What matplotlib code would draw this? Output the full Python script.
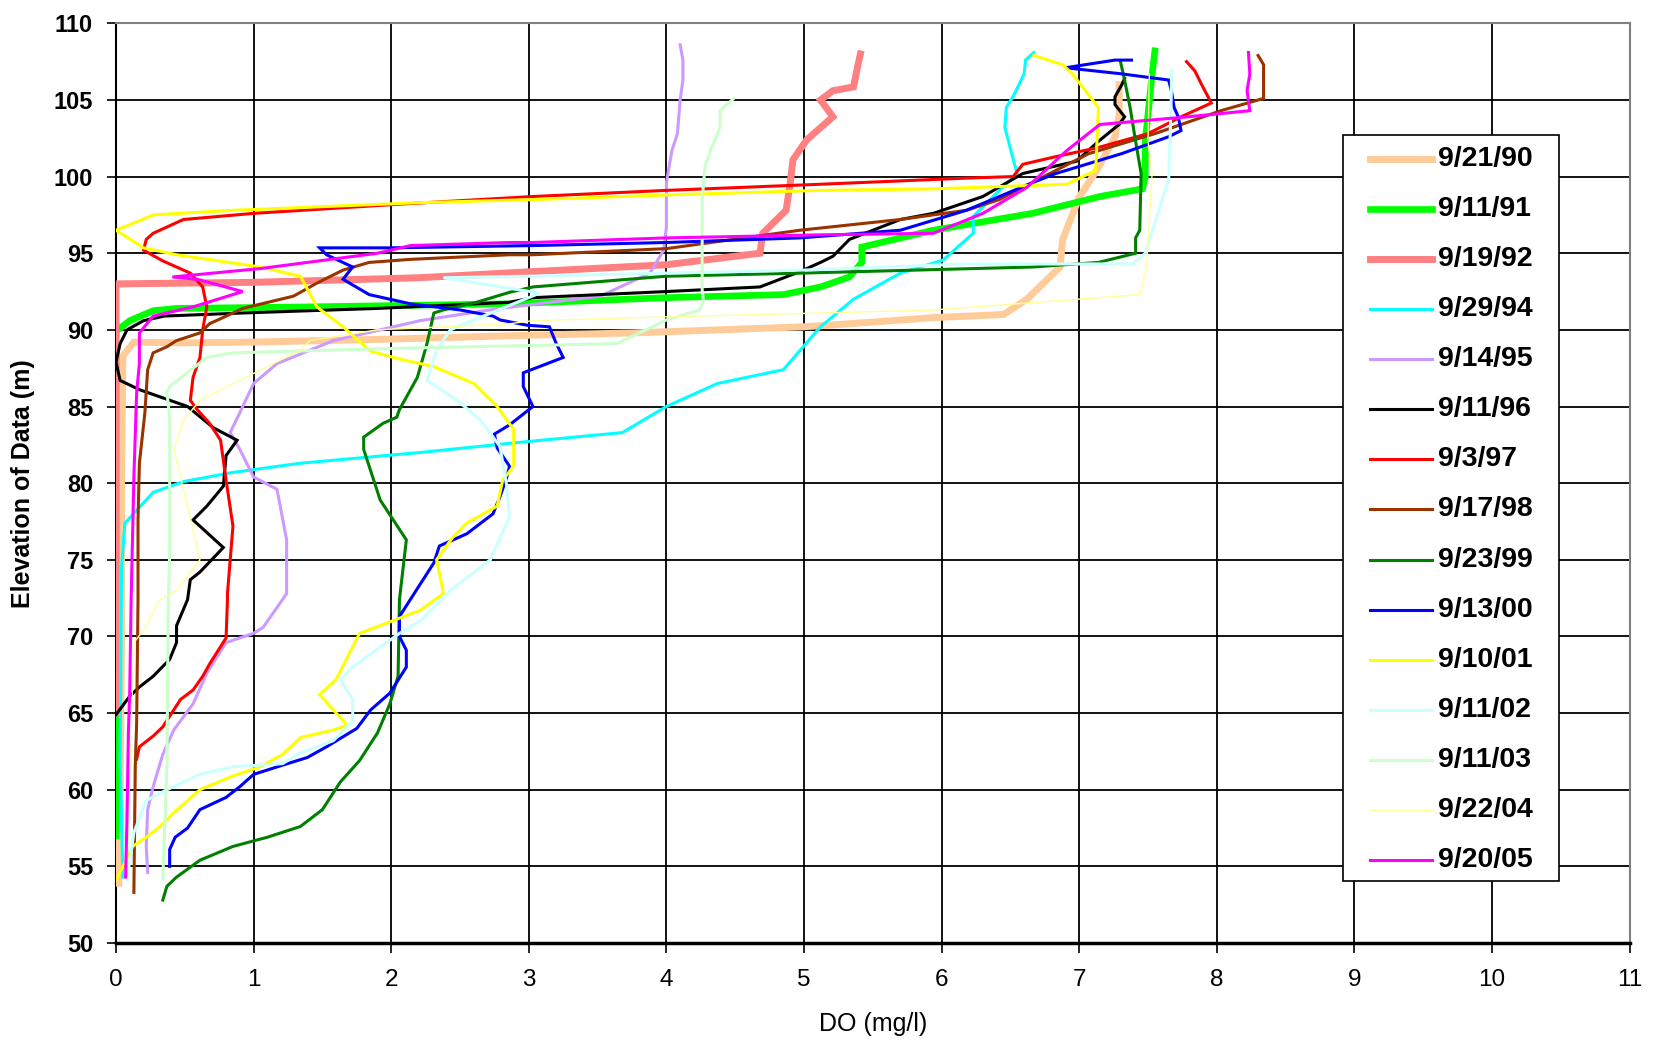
import matplotlib
matplotlib.use("Agg")
import matplotlib.pyplot as plt
from matplotlib.patches import Rectangle
from matplotlib.lines import Line2D
import logging
logging.getLogger("matplotlib.font_manager").setLevel(logging.ERROR)

# ---------------- data (DO mg/l vs elevation m) ----------------
labels = ["9/21/90", "9/11/91", "9/19/92", "9/29/94", "9/14/95", "9/11/96", "9/3/97",
          "9/17/98", "9/23/99", "9/13/00", "9/10/01", "9/11/02", "9/11/03", "9/22/04", "9/20/05"]

do_90 = [0.02, 0.03, 0.04, 0.04, 0.05, 0.13, 0.5, 1.0, 2.0, 3.0, 3.76, 5.0, 5.43, 5.94, 6.45, 6.62,
         6.86, 6.88, 7.0, 7.14, 7.26, 7.29, 7.29]
el_90 = [53.9, 60, 70, 80, 88.3, 89.2, 89.15, 89.2, 89.4, 89.65, 89.8, 90.2, 90.46, 90.8, 91.0, 92.0,
         94.1, 95.9, 98.65, 100.6, 102.6, 104.0, 106.0]

do_91 = [0.0, 0.0, 0.1, 0.27, 0.44, 1.41, 2.86, 4.0, 4.85, 5.12, 5.33, 5.42, 5.42, 5.94, 6.66, 7.15,
         7.46, 7.48, 7.48, 7.53, 7.55]
el_91 = [57.0, 89.9, 90.6, 91.25, 91.4, 91.5, 91.7, 92.1, 92.3, 92.8, 93.45, 94.4, 95.4, 96.5, 97.6, 98.7,
         99.2, 100.0, 102.3, 106.7, 108.2]

do_92 = [0.0, 0.0, 0.5, 1.0, 2.2, 3.03, 4.0, 4.68, 4.70, 4.87, 4.90, 4.92, 5.02, 5.21, 5.12, 5.21,
         5.36, 5.39, 5.41]
el_92 = [65.0, 93.0, 93.05, 93.1, 93.4, 93.8, 94.25, 95.0, 96.3, 97.8, 99.6, 101.1, 102.4, 103.9, 105.0, 105.6,
         105.85, 107.2, 108.0]

do_94 = [0.05, 0.03, 0.04, 0.065, 0.27, 0.49, 0.85, 1.34, 2.21, 2.86, 3.68, 4.0, 4.37, 4.85, 5.12, 5.36,
         5.70, 6.01, 6.23, 6.23, 6.42, 6.55, 6.53, 6.46, 6.47, 6.53, 6.60, 6.61, 6.67]
el_94 = [54.3, 62, 74.5, 77.4, 79.4, 80.1, 80.7, 81.3, 82.0, 82.6, 83.3, 85.0, 86.5, 87.4, 90.2, 92.0,
         93.7, 94.55, 96.3, 97.4, 99.1, 100.2, 100.8, 103.2, 104.5, 105.4, 106.7, 107.6, 108.1]

do_95 = [0.23, 0.22, 0.23, 0.27, 0.34, 0.42, 0.56, 0.66, 0.80, 1.0, 1.07, 1.21, 1.24, 1.24, 1.17, 1.0,
         0.9, 0.83, 0.9, 1.0, 1.17, 1.58, 2.21, 2.79, 3.52, 3.88, 3.98, 4.0, 4.0, 4.04, 4.08, 4.10,
         4.12, 4.12, 4.10]
el_95 = [54.6, 56.3, 58.7, 60.2, 62.3, 63.9, 65.6, 67.6, 69.6, 70.2, 70.6, 72.4, 72.8, 76.3, 79.6, 80.4,
         82.2, 83.3, 84.6, 86.5, 87.8, 89.3, 90.6, 91.4, 92.2, 93.7, 95.2, 96.7, 99.6, 101.7, 102.8, 105.0,
         106.3, 107.6, 108.6]

do_96 = [0.0, 0.1, 0.17, 0.27, 0.39, 0.44, 0.44, 0.52, 0.54, 0.61, 0.78, 0.56, 0.66, 0.78, 0.80, 0.88,
         0.71, 0.52, 0.17, 0.03, 0.0, 0.03, 0.08, 0.2, 0.35, 0.92, 1.9, 2.86, 3.03, 4.0, 4.68, 4.97,
         5.12, 5.21, 5.33, 5.70, 5.94, 6.30, 6.59, 6.98, 7.14, 7.29, 7.33, 7.26, 7.26, 7.31, 7.33]
el_96 = [64.9, 66.1, 66.7, 67.4, 68.5, 69.6, 70.7, 72.4, 73.7, 74.2, 75.8, 77.6, 78.5, 79.8, 81.8, 82.8,
         83.6, 85.0, 86.1, 86.7, 87.9, 89.1, 90.0, 90.6, 90.9, 91.1, 91.4, 91.8, 92.1, 92.5, 92.8, 93.8,
         94.4, 94.8, 95.9, 97.2, 97.6, 98.7, 100.2, 101.0, 102.3, 103.4, 103.9, 104.7, 105.2, 106.0, 106.4]

do_97 = [0.15, 0.17, 0.27, 0.34, 0.39, 0.47, 0.56, 0.63, 0.68, 0.80, 0.81, 0.81, 0.85, 0.80, 0.76, 0.68,
         0.59, 0.54, 0.56, 0.61, 0.63, 0.66, 0.63, 0.54, 0.34, 0.2, 0.22, 0.27, 0.49, 1.0, 2.06, 3.03,
         4.0, 5.12, 6.18, 6.52, 6.59, 6.83, 7.14, 7.5, 7.74, 7.96, 7.89, 7.84, 7.78]
el_97 = [62.0, 62.8, 63.5, 64.1, 64.8, 65.9, 66.5, 67.4, 68.2, 69.9, 72.4, 72.8, 77.2, 80.2, 82.8, 83.9,
         84.8, 85.4, 86.9, 88.2, 90.0, 91.5, 92.8, 93.7, 94.5, 95.2, 95.9, 96.3, 97.2, 97.6, 98.2, 98.7,
         99.1, 99.5, 99.9, 100.0, 100.8, 101.3, 101.9, 102.8, 103.9, 104.8, 106.0, 106.9, 107.5]

do_98 = [0.13, 0.14, 0.15, 0.16, 0.16, 0.17, 0.21, 0.23, 0.27, 0.37, 0.44, 0.61, 0.68, 0.85, 0.92, 1.29,
         1.46, 1.65, 1.84, 2.14, 2.86, 3.03, 4.0, 4.97, 5.70, 6.18, 6.42, 6.59, 7.07, 7.55, 8.03, 8.34,
         8.34, 8.30]
el_98 = [53.3, 61.5, 64.3, 72.4, 77.6, 81.3, 84.6, 87.4, 88.5, 88.9, 89.3, 89.8, 90.4, 91.1, 91.4, 92.2,
         93.05, 93.9, 94.4, 94.6, 94.9, 94.9, 95.3, 96.5, 97.2, 97.8, 98.5, 99.3, 101.5, 102.8, 104.3, 105.1,
         107.3, 107.9]

do_99 = [0.34, 0.37, 0.44, 0.61, 0.85, 1.10, 1.34, 1.50, 1.63, 1.77, 1.90, 1.99, 2.05, 2.06, 2.11, 1.92,
         1.80, 1.80, 1.94, 2.04, 2.06, 2.19, 2.26, 2.31, 2.38, 2.62, 2.86, 3.03, 4.0, 4.97, 6.66, 7.14,
         7.41, 7.41, 7.44, 7.45, 7.41, 7.37, 7.33, 7.30]
el_99 = [52.8, 53.7, 54.3, 55.4, 56.3, 56.9, 57.6, 58.7, 60.5, 61.9, 63.7, 65.6, 67.4, 72.4, 76.3, 78.9,
         82.2, 83.0, 83.9, 84.3, 84.8, 86.9, 89.1, 91.1, 91.3, 91.8, 92.45, 92.8, 93.5, 93.7, 94.1, 94.4,
         95.0, 96.0, 96.5, 100.2, 102.3, 104.5, 106.3, 107.5]

do_00 = [0.39, 0.39, 0.43, 0.52, 0.61, 0.80, 0.90, 1.0, 1.21, 1.39, 1.53, 1.75, 1.85, 1.99, 2.11, 2.11,
         2.06, 2.06, 2.31, 2.35, 2.55, 2.74, 2.79, 2.84, 2.86, 2.77, 2.75, 2.86, 3.03, 2.96, 2.96, 3.25,
         3.20, 3.15, 2.99, 2.79, 2.74, 2.50, 2.14, 1.84, 1.65, 1.72, 1.53, 1.48, 1.99, 3.03, 4.0, 4.97,
         5.70, 6.18, 6.66, 6.83, 7.31, 7.65, 7.74, 7.72, 7.69, 7.67, 7.65, 7.31, 6.90, 7.26, 7.38]
el_00 = [55.0, 56.1, 56.9, 57.5, 58.7, 59.5, 60.2, 61.0, 61.6, 62.1, 62.8, 64.0, 65.2, 66.3, 68.0, 69.1,
         70.0, 71.3, 74.8, 75.9, 76.7, 78.0, 79.1, 80.4, 81.1, 82.3, 83.2, 83.8, 85.0, 86.3, 87.2, 88.2,
         89.1, 90.2, 90.3, 90.65, 90.9, 91.3, 91.7, 92.3, 93.3, 94.1, 94.9, 95.35, 95.35, 95.5, 95.7, 96.0,
         96.5, 97.8, 99.6, 100.2, 101.5, 102.6, 103.0, 103.9, 104.5, 105.6, 106.3, 106.7, 107.1, 107.6, 107.6]

do_01 = [0.0, 0.05, 0.12, 0.22, 0.32, 0.42, 0.61, 0.85, 1.05, 1.21, 1.34, 1.58, 1.68, 1.48, 1.60, 1.77,
         2.21, 2.38, 2.33, 2.45, 2.55, 2.77, 2.81, 2.89, 2.89, 2.77, 2.60, 2.31, 2.06, 1.85, 1.65, 1.46,
         1.34, 1.05, 0.44, 0.2, 0.0, 0.27, 0.85, 2.21, 3.03, 4.0, 5.12, 5.94, 6.91, 7.12, 7.14, 6.95,
         6.88, 6.67]
el_01 = [54.1, 55.0, 56.3, 56.9, 57.6, 58.5, 60.0, 60.9, 61.5, 62.3, 63.4, 63.9, 64.2, 66.2, 67.2, 70.2,
         71.7, 72.8, 75.0, 76.5, 77.4, 78.5, 80.2, 81.1, 83.5, 85.0, 86.5, 87.6, 88.1, 88.6, 90.2, 91.5,
         93.5, 94.1, 94.9, 95.35, 96.5, 97.5, 97.8, 98.3, 98.5, 98.8, 99.1, 99.2, 99.5, 100.4, 104.5, 106.7,
         107.3, 107.9]

do_02 = [0.08, 0.13, 0.22, 0.37, 0.61, 0.85, 1.21, 1.34, 1.58, 1.72, 1.72, 1.63, 1.72, 2.06, 2.21, 2.43,
         2.72, 2.86, 2.84, 2.79, 2.65, 2.48, 2.26, 2.33, 2.43, 2.67, 3.08, 2.38, 3.0, 4.0, 5.0, 6.18,
         7.39, 7.48, 7.65, 7.66, 7.67, 7.67]
el_02 = [54.1, 57.2, 59.3, 60.0, 61.0, 61.5, 61.7, 62.4, 63.2, 64.5, 65.9, 67.2, 68.0, 70.2, 71.0, 73.0,
         75.0, 77.8, 79.8, 82.4, 84.1, 85.4, 86.7, 88.7, 90.0, 90.9, 92.4, 93.4, 93.5, 93.7, 93.9, 94.3,
         94.3, 95.0, 99.8, 102.3, 105.6, 106.9]

do_03 = [0.34, 0.37, 0.38, 0.39, 0.39, 0.37, 0.39, 0.66, 0.85, 2.06, 3.64, 4.0, 4.24, 4.27, 4.26, 4.26,
         4.26, 4.28, 4.32, 4.39, 4.39, 4.49]
el_03 = [54.2, 61.5, 72.4, 75.4, 84.3, 85.9, 86.3, 88.2, 88.5, 88.8, 89.1, 90.65, 91.3, 91.9, 92.6, 96.3,
         98.5, 100.6, 101.7, 103.2, 104.3, 105.1]

do_04 = [0.08, 0.13, 0.20, 0.32, 0.44, 0.61, 0.52, 0.42, 0.49, 0.61, 0.85, 1.10, 1.34, 1.41, 1.90, 2.86,
         3.03, 4.0, 5.12, 5.94, 7.44, 7.49, 7.53, 7.50, 7.51]
el_04 = [55.0, 69.6, 70.4, 72.4, 73.0, 75.0, 78.5, 82.2, 84.1, 85.4, 86.5, 87.6, 88.7, 89.3, 90.0, 90.4,
         90.6, 90.85, 91.1, 91.3, 92.3, 94.1, 100.2, 102.3, 106.7]

do_05 = [0.07, 0.08, 0.09, 0.10, 0.11, 0.13, 0.15, 0.17, 0.17, 0.27, 0.56, 0.92, 0.59, 0.41, 1.05, 1.90,
         2.14, 2.86, 3.03, 4.0, 5.12, 5.94, 6.30, 6.62, 6.91, 7.15, 7.79, 8.24, 8.22, 8.24, 8.23]
el_05 = [54.3, 58.2, 63.7, 66.5, 72.4, 80.4, 85.9, 87.8, 89.8, 90.9, 91.5, 92.5, 93.3, 93.45, 94.0, 95.0,
         95.5, 95.7, 95.7, 96.0, 96.2, 96.3, 97.6, 99.3, 101.7, 103.4, 103.9, 104.3, 105.6, 106.7, 108.1]

x_ticks = list(range(0, 12))
y_ticks = list(range(50, 111, 5))

# ---------------- styling ----------------
series = [
    (do_90, el_90, "#FFCC99", 5.0),
    (do_91, el_91, "#00FF00", 4.8),
    (do_92, el_92, "#FF8080", 5.0),
    (do_94, el_94, "#00FFFF", 2.2),
    (do_95, el_95, "#CC99FF", 2.2),
    (do_96, el_96, "#000000", 2.2),
    (do_97, el_97, "#FF0000", 2.2),
    (do_98, el_98, "#993300", 2.2),
    (do_99, el_99, "#008000", 2.2),
    (do_00, el_00, "#0000FF", 2.2),
    (do_01, el_01, "#FFFF00", 2.2),
    (do_02, el_02, "#CCFFFF", 2.2),
    (do_03, el_03, "#CCFFCC", 2.2),
    (do_04, el_04, "#FFFF99", 1.0),
    (do_05, el_05, "#FF00FF", 2.2),
]

W, H = 1661, 1045
fig = plt.figure(figsize=(W / 100, H / 100), dpi=100)
ax_l, ax_r, ax_t, ax_b = 116, 1629.6, 23.3, 943
ax = fig.add_axes([ax_l / W, 1 - ax_b / H, (ax_r - ax_l) / W, (ax_b - ax_t) / H])

for (xs, ys, col, lw), lab in zip(series, labels):
    ax.plot(xs, ys, color=col, lw=lw, label=lab, solid_joinstyle="miter", zorder=3)

ax.set_xlim(0, 11)
ax.set_ylim(50, 110)
ax.set_xticks(x_ticks)
ax.set_yticks(y_ticks)
ax.set_axisbelow(True)
ax.grid(True, color="black", lw=1.3)

for s in ("top", "right"):
    ax.spines[s].set_color("#808080")
    ax.spines[s].set_linewidth(1.5)
ax.spines["left"].set_color("black")
ax.spines["left"].set_linewidth(1.5)
ax.spines["bottom"].set_color("black")
ax.spines["bottom"].set_linewidth(2.5)

sans = ["Liberation Sans", "DejaVu Sans"]
ax.tick_params(axis="y", length=6.5, width=1.2, pad=10)
ax.tick_params(axis="x", length=7, width=1.2, pad=12)
for t in ax.get_yticklabels():
    t.set_fontfamily(sans)
    t.set_fontweight("bold")
    t.set_fontsize(17)
for t in ax.get_xticklabels():
    t.set_fontfamily(sans)
    t.set_fontsize(17.5)

ax.set_xlabel("DO (mg/l)", family=sans, fontsize=18)
ax.set_ylabel("Elevation of Data (m)", family=sans, fontsize=18, fontweight="bold")
ax.xaxis.set_label_coords(0.5, (ax_b - 1012) / (ax_b - ax_t))
ax.yaxis.set_label_coords((35 - ax_l) / (ax_r - ax_l), 0.5)

# ---------------- legend (boxed key, placed as in the reference) ----------------
aw, ah = ax_r - ax_l, ax_b - ax_t
fx = lambda px: (px - ax_l) / aw
fy = lambda py: (ax_b - py) / ah
bx0, bx1, by0, by1 = fx(1343), fx(1559), fy(881), fy(134.5)
ax.add_patch(Rectangle((bx0, by0), bx1 - bx0, by1 - by0, transform=ax.transAxes,
                       facecolor="white", edgecolor="black", lw=1.2, zorder=10, clip_on=False))
first_row, pitch = 159.0, 50.07
for i, ((xs, ys, col, lw), lab) in enumerate(zip(series, labels)):
    yc = fy(first_row + i * pitch)
    ax.add_line(Line2D([fx(1370), fx(1432)], [yc, yc], transform=ax.transAxes, color=col,
                       lw=lw, zorder=11, clip_on=False))
    ax.text(fx(1438), yc, lab, transform=ax.transAxes, ha="left", va="center",
            fontsize=20.5, fontweight="bold", family=sans, zorder=12)

fig.savefig("out.png", dpi=100, facecolor="white")
